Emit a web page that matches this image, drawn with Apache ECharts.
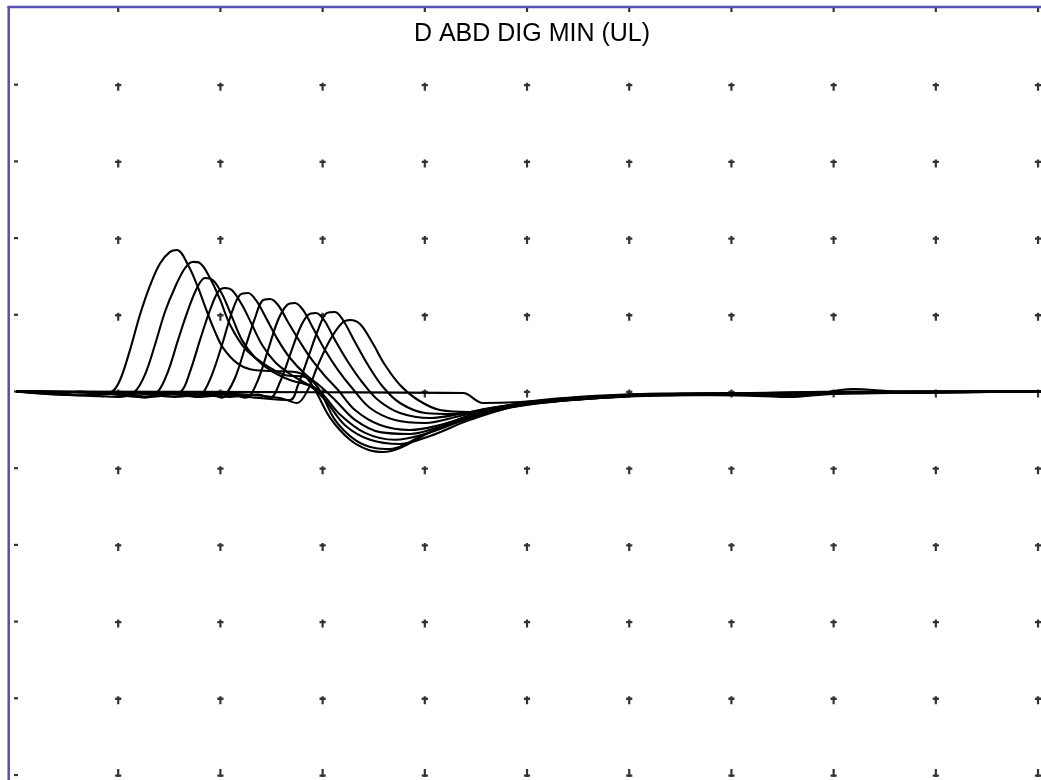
<!DOCTYPE html>
<html>
<head>
<meta charset="utf-8">
<script src="https://cdn.jsdelivr.net/npm/echarts@6/dist/echarts.min.js"></script>
<style>
html,body{margin:0;padding:0;background:#fff;}
#chart{width:1041px;height:780px;}
</style>
</head>
<body>
<div id="chart"></div>
<script>
// Title
const chartTitle = "D ABD DIG MIN (UL)";

// Grid reference points (divisions): x in ms-like units, y in divisions
const xTicks = [0, 10, 20, 30, 40, 50, 60, 70, 80, 90, 100];
const yTicks = [5, 4, 3, 2, 1, 0, -1, -2, -3, -4, -5];

// Traces: [x, y] pairs
const trace0 = [[0,0],[30,-0.01],[43.74,-0.02],[45.69,-0.15],[49.32,-0.137],[57.14,-0.072],[66.93,-0.03],[100.29,0]];
const trace1 = [[0,0],[2.35,0],[4.31,-0.03],[6.26,0],[8.22,-0.02],[9.39,0],[10.18,0.15],[11.15,0.54],[12.13,1.0],[13.11,1.38],[14.09,1.67],[15.07,1.82],[15.75,1.845],[16.83,1.65],[17.71,1.39],[18.69,1.04],[19.47,0.78],[20.26,0.57],[21.63,0.37],[22.9,0.29],[24.85,0.267],[27.3,0.254],[28.28,0.20],[29.26,0.02],[30.72,-0.34],[32.68,-0.63],[34.44,-0.76],[35.91,-0.789],[37.57,-0.737],[40.51,-0.53],[44.42,-0.31],[49.32,-0.15],[55.19,-0.07],[62.04,-0.03],[71.82,-0.02],[81.6,0],[91.39,0],[100.29,0]];
const trace2 = [[0,0],[4.31,-0.04],[8.22,-0.06],[10.18,-0.07],[11.64,0],[12.62,0.22],[13.6,0.61],[14.58,1.04],[15.56,1.36],[16.54,1.61],[17.32,1.69],[18.0,1.675],[18.98,1.48],[19.96,1.20],[20.94,0.87],[22.41,0.56],[24.36,0.35],[26.32,0.215],[28.28,0.19],[29.55,0.05],[31.21,-0.37],[33.17,-0.63],[35.13,-0.737],[36.59,-0.75],[39.53,-0.59],[43.44,-0.37],[48.34,-0.19],[54.21,-0.085],[62.04,-0.04],[70.55,-0.03],[76.03,-0.06],[81.6,-0.02],[91.39,0],[100.29,0]];
const trace3 = [[0,0],[6.26,-0.05],[10.18,-0.03],[12.62,-0.08],[13.89,0],[14.87,0.26],[15.85,0.67],[16.83,1.06],[17.71,1.35],[18.49,1.48],[19.28,1.45],[20.16,1.27],[21.14,0.97],[22.11,0.67],[23.39,0.44],[24.85,0.28],[26.81,0.15],[28.77,0.07],[30.23,-0.11],[32.19,-0.44],[34.64,-0.63],[37.57,-0.685],[40.51,-0.58],[44.42,-0.37],[49.32,-0.175],[55.19,-0.085],[63.01,-0.03],[76.03,-0.04],[86.5,0],[100.29,0]];
const trace4 = [[0,0],[8.22,-0.02],[12.13,-0.07],[14.58,-0.04],[16.14,0],[17.03,0.26],[18.0,0.67],[18.98,1.06],[19.77,1.30],[20.45,1.35],[21.14,1.32],[22.11,1.13],[23.09,0.87],[24.07,0.61],[25.34,0.385],[26.81,0.228],[28.28,0.111],[29.75,0],[31.7,-0.30],[34.15,-0.54],[37.08,-0.63],[40.02,-0.553],[43.93,-0.37],[48.83,-0.20],[55.19,-0.10],[63.01,-0.046],[76.03,-0.03],[100.29,0]];
const trace5 = [[0,0],[10.18,-0.02],[13.11,-0.07],[16.14,-0.03],[17.71,-0.07],[18.3,-0.02],[19.18,0.22],[20.16,0.61],[21.14,1.04],[21.92,1.26],[22.7,1.284],[23.48,1.19],[24.46,0.96],[25.64,0.67],[26.81,0.437],[28.28,0.228],[29.75,0.072],[31.21,-0.11],[33.17,-0.37],[35.62,-0.53],[38.55,-0.554],[41.49,-0.46],[45.4,-0.293],[50.29,-0.163],[57.14,-0.085],[64.97,-0.03],[100.29,0]];
const trace6 = [[0,0],[12.13,-0.03],[15.56,-0.07],[18.98,-0.03],[20.16,-0.08],[20.55,-0.04],[21.43,0.176],[22.41,0.567],[23.39,0.96],[24.07,1.18],[24.85,1.206],[25.64,1.128],[26.61,0.906],[27.79,0.645],[28.96,0.411],[30.23,0.202],[31.51,0.02],[33.17,-0.241],[35.62,-0.437],[38.55,-0.502],[41.49,-0.437],[45.4,-0.28],[50.29,-0.163],[57.14,-0.085],[64.97,-0.03],[100.29,0]];
const trace7 = [[0,0],[14.58,-0.03],[18.0,-0.07],[21.14,-0.03],[22.41,-0.08],[22.8,-0.07],[23.68,0.15],[24.66,0.541],[25.64,0.932],[26.52,1.128],[27.3,1.154],[28.08,1.063],[29.06,0.828],[30.23,0.541],[31.51,0.28],[32.88,0.046],[34.64,-0.215],[37.08,-0.372],[40.02,-0.411],[43.44,-0.32],[47.36,-0.202],[53.23,-0.111],[61.06,-0.046],[70.55,-0.05],[76.03,-0.072],[81.9,0.033],[86.5,0],[100.29,0]];
const trace8 = [[0,0],[16.54,-0.03],[20.94,-0.07],[23.68,-0.04],[24.85,-0.085],[25.83,0.124],[26.81,0.476],[27.79,0.828],[28.57,0.998],[29.35,1.024],[30.14,0.932],[31.21,0.671],[32.49,0.385],[33.86,0.124],[35.42,-0.111],[37.57,-0.280],[40.51,-0.346],[43.93,-0.28],[48.34,-0.176],[54.21,-0.098],[62.04,-0.046],[100.29,0]];
const trace9 = [[0,0],[18.98,-0.03],[23.39,-0.08],[26.81,-0.111],[27.59,0.085],[28.57,0.437],[29.55,0.802],[30.43,1.024],[31.21,1.037],[31.99,0.932],[33.17,0.645],[34.44,0.345],[35.91,0.059],[37.57,-0.150],[40.02,-0.280],[42.95,-0.293],[46.38,-0.215],[51.27,-0.137],[57.14,-0.085],[64.97,-0.046],[100.29,0]];
const trace10 = [[0,0],[20.94,-0.03],[25.83,-0.085],[27.5,-0.15],[28.47,0],[29.55,0.345],[30.72,0.671],[31.9,0.893],[32.68,0.932],[33.66,0.880],[34.83,0.645],[36.11,0.345],[37.57,0.085],[39.33,-0.111],[41.49,-0.241],[44.42,-0.267],[48.34,-0.189],[53.23,-0.111],[60.08,-0.059],[100.29,0]];

const traces = [trace0, trace1, trace2, trace3, trace4, trace5, trace6, trace7, trace8, trace9, trace10];

const SYM_CROSS = 'path://M2,0H4.2V8H2Z M0,1.3H6.2V3.6H0Z';
const SYM_CROSS_INV = 'path://M2,0H4.2V8H2Z M0,5.4H6.2V7.8H0Z';
const SYM_DASH = 'path://M0,0H4V2.2H0Z';
const SYM_TICK = 'path://M0,0H2.2V4H0Z';

const markerData = [];
xTicks.forEach((xv, i) => {
  yTicks.forEach((yv, j) => {
    const isLeft = i === 0, isTop = j === 0, isBottom = j === yTicks.length - 1;
    if (isLeft && isTop) return;
    let item = { value: [xv, yv] };
    if (isLeft) { item.symbol = SYM_DASH; item.symbolSize = [4, 2.2]; item.symbolOffset = [0, 0]; }
    else if (isTop) { item.symbol = SYM_TICK; item.symbolSize = [2.2, 4]; item.symbolOffset = [0, 2]; }
    else if (isBottom) { item.symbol = SYM_CROSS_INV; item.symbolSize = [6.2, 8]; item.symbolOffset = [0, -2]; }
    else { item.symbol = SYM_CROSS; item.symbolSize = [6.2, 8]; item.symbolOffset = [0, 2]; }
    markerData.push(item);
  });
});

const chart = echarts.init(document.getElementById('chart'), null, { renderer: 'canvas' });

const series = traces.map(t => ({
  type: 'line',
  data: t,
  showSymbol: false,
  smooth: 0.35,
  silent: true,
  clip: false,
  lineStyle: { color: '#000', width: 2.1 },
  z: 3
}));
series.push({
  type: 'scatter',
  data: markerData,
  clip: false,
  silent: true,
  itemStyle: { color: '#000' },
  z: 2
});

chart.setOption({
  animation: false,
  backgroundColor: '#fff',
  grid: { left: 16, right: 0, top: 8, bottom: 5, containLabel: false },
  xAxis: { type: 'value', min: 0, max: 100.29, show: false },
  yAxis: { type: 'value', min: -5, max: 5, show: false },
  graphic: [
    { type: 'line', shape: { x1: 8.7, y1: 6, x2: 8.7, y2: 780 }, style: { stroke: '#5650b0', lineWidth: 2.5 }, z: 10 },
    { type: 'line', shape: { x1: 7.5, y1: 7, x2: 1041, y2: 7 }, style: { stroke: '#5650b0', lineWidth: 2.5 }, z: 10 },
    { type: 'text', x: 532, y: 34, z: 10,
      style: { text: chartTitle, font: '25px "Liberation Sans", Arial, sans-serif', fill: '#000', textAlign: 'center', textVerticalAlign: 'middle' } }
  ],
  series: series
});
</script>
</body>
</html>
